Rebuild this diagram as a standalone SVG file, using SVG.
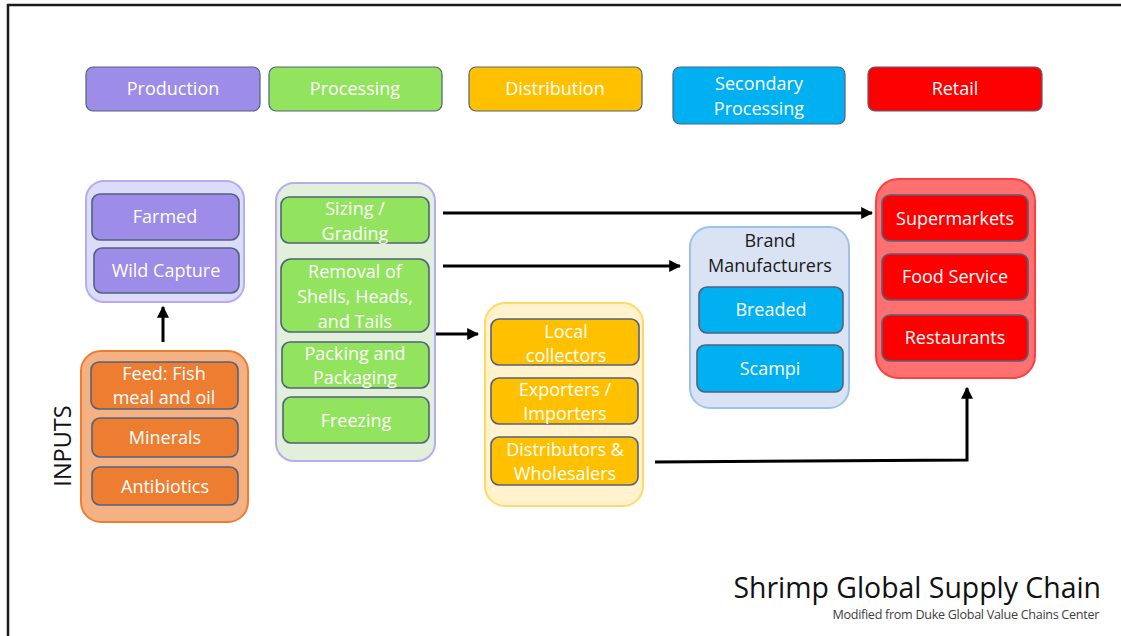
<svg xmlns="http://www.w3.org/2000/svg" width="1121" height="636" viewBox="0 0 1121 636">
  <style>
    text { font-family: "Open Sans", "Noto Sans", "Liberation Sans", sans-serif; }
    .w { fill: #ffffff; font-size: 18px; text-anchor: middle; }
    .k { fill: #1a1a1a; font-size: 18px; text-anchor: middle; }
    .item { stroke: #52627e; stroke-width: 1.6; }
    .hdr { stroke: #52627e; stroke-width: 1.2; }
    .conn { fill: none; stroke: #000000; stroke-width: 3; }
  </style>
  <defs>
    <marker id="arrow" viewBox="0 0 10 10" refX="9" refY="5" markerWidth="4" markerHeight="4" orient="auto" markerUnits="strokeWidth">
      <path d="M0,0 L10,5 L0,10 Z" fill="#000000"/>
    </marker>
  </defs>

  <rect x="0" y="0" width="1121" height="636" fill="#ffffff"/>
  <!-- frame -->
  <path d="M8,640 L8,5 L1125,5" fill="none" stroke="#1a1a1a" stroke-width="2.5"/>

  <!-- stage headers -->
  <g id="hdr-production">
    <rect class="hdr" x="86" y="67" width="174" height="44" rx="7" fill="#9d8ce8"/>
    <text class="w" x="173" y="95">Production</text>
  </g>
  <g id="hdr-processing">
    <rect class="hdr" x="269" y="67" width="173" height="44" rx="7" fill="#92e35d"/>
    <text class="w" x="355" y="95">Processing</text>
  </g>
  <g id="hdr-distribution">
    <rect class="hdr" x="469" y="67" width="173" height="44" rx="7" fill="#ffc000"/>
    <text class="w" x="555" y="95">Distribution</text>
  </g>
  <g id="hdr-secondary">
    <rect class="hdr" x="673" y="67" width="172" height="57" rx="7" fill="#00b0f0"/>
    <text class="w" x="759" y="90">Secondary</text>
    <text class="w" x="759" y="115">Processing</text>
  </g>
  <g id="hdr-retail">
    <rect class="hdr" x="868" y="67" width="174" height="44" rx="7" fill="#ff0000"/>
    <text class="w" x="955" y="95">Retail</text>
  </g>

  <!-- connectors -->
  <g id="connectors">
    <path class="conn" d="M163,342 L163,307" marker-end="url(#arrow)"/>
    <path class="conn" d="M443,213 L872,213" marker-end="url(#arrow)"/>
    <path class="conn" d="M443,266 L680,266" marker-end="url(#arrow)"/>
    <path class="conn" d="M436,334 L478,334" marker-end="url(#arrow)"/>
    <path class="conn" d="M655,462 L967,460 L967,388" marker-end="url(#arrow)"/>
  </g>

  <!-- production -->
  <g id="production">
    <rect x="86" y="181" width="158" height="121" rx="18" fill="#dcdcfa" stroke="#b7acf2" stroke-width="2"/>
    <rect class="item" x="92" y="194" width="147" height="46" rx="8" fill="#9d8ce8"/>
    <text class="w" x="165" y="223">Farmed</text>
    <rect class="item" x="94" y="248" width="145" height="45" rx="8" fill="#9d8ce8"/>
    <text class="w" x="166" y="277">Wild Capture</text>
  </g>

  <!-- inputs -->
  <g id="inputs">
    <text x="0" y="0" transform="translate(71,446) rotate(-90)" font-size="23.5" fill="#111111" text-anchor="middle">INPUTS</text>
    <rect x="81" y="351" width="167" height="171" rx="20" fill="#f4b183" stroke="#ed7d31" stroke-width="2"/>
    <rect class="item" x="91" y="362" width="147" height="47" rx="8" fill="#ed7d31"/>
    <text class="w" x="164" y="380">Feed: Fish</text>
    <text class="w" x="164" y="404">meal and oil</text>
    <rect class="item" x="92" y="418" width="146" height="39" rx="8" fill="#ed7d31"/>
    <text class="w" x="165" y="444">Minerals</text>
    <rect class="item" x="92" y="467" width="146" height="38" rx="8" fill="#ed7d31"/>
    <text class="w" x="165" y="493">Antibiotics</text>
  </g>

  <!-- processing -->
  <g id="processing">
    <rect x="276" y="183" width="159" height="278" rx="18" fill="#e2efda" stroke="#b7acf2" stroke-width="2"/>
    <rect class="item" x="281" y="197" width="148" height="46" rx="8" fill="#92e35d"/>
    <text class="w" x="355" y="215">Sizing /</text>
    <text class="w" x="355" y="240">Grading</text>
    <rect class="item" x="281" y="259" width="148" height="73" rx="10" fill="#92e35d"/>
    <text class="w" x="355" y="278">Removal of</text>
    <text class="w" x="355" y="303">Shells, Heads,</text>
    <text class="w" x="355" y="328">and Tails</text>
    <rect class="item" x="282" y="342" width="147" height="46" rx="8" fill="#92e35d"/>
    <text class="w" x="355" y="360">Packing and</text>
    <text class="w" x="355" y="384">Packaging</text>
    <rect class="item" x="283" y="397" width="146" height="46" rx="8" fill="#92e35d"/>
    <text class="w" x="356" y="427">Freezing</text>
  </g>

  <!-- distribution -->
  <g id="distribution">
    <rect x="485" y="303" width="158" height="203" rx="20" fill="#fff2cc" stroke="#ffd966" stroke-width="2"/>
    <rect class="item" x="491" y="319" width="148" height="46" rx="8" fill="#ffc000"/>
    <text class="w" x="566" y="338">Local</text>
    <text class="w" x="566" y="362">collectors</text>
    <rect class="item" x="491" y="378" width="147" height="46" rx="8" fill="#ffc000"/>
    <text class="w" x="565" y="396">Exporters /</text>
    <text class="w" x="565" y="420">Importers</text>
    <rect class="item" x="491" y="437" width="147" height="48" rx="8" fill="#ffc000"/>
    <text class="w" x="565" y="456">Distributors &amp;</text>
    <text class="w" x="565" y="480">Wholesalers</text>
  </g>

  <!-- brand manufacturers -->
  <g id="brand">
    <rect x="690" y="227" width="159" height="181" rx="20" fill="#dae3f3" stroke="#9dc3e6" stroke-width="2"/>
    <text class="k" x="770" y="247">Brand</text>
    <text class="k" x="770" y="272">Manufacturers</text>
    <rect class="item" x="699" y="287" width="144" height="46" rx="8" fill="#00b0f0"/>
    <text class="w" x="771" y="316">Breaded</text>
    <rect class="item" x="697" y="345" width="146" height="47" rx="8" fill="#00b0f0"/>
    <text class="w" x="770" y="375">Scampi</text>
  </g>

  <!-- retail -->
  <g id="retail">
    <rect x="876" y="179" width="159" height="199" rx="22" fill="#ff7171" stroke="#ff4040" stroke-width="2"/>
    <rect class="item" x="882" y="195" width="146" height="46" rx="8" fill="#ff0000"/>
    <text class="w" x="955" y="225">Supermarkets</text>
    <rect class="item" x="882" y="254" width="146" height="46" rx="8" fill="#ff0000"/>
    <text class="w" x="955" y="283">Food Service</text>
    <rect class="item" x="882" y="315" width="146" height="46" rx="8" fill="#ff0000"/>
    <text class="w" x="955" y="344">Restaurants</text>
  </g>

  <!-- caption -->
  <g id="caption">
    <text x="1101" y="598" font-size="28.4" fill="#111111" text-anchor="end">Shrimp Global Supply Chain</text>
    <text x="1099" y="619" font-size="12.6" fill="#404040" text-anchor="end" letter-spacing="-0.3">Modified from Duke Global Value Chains Center</text>
  </g>
</svg>
